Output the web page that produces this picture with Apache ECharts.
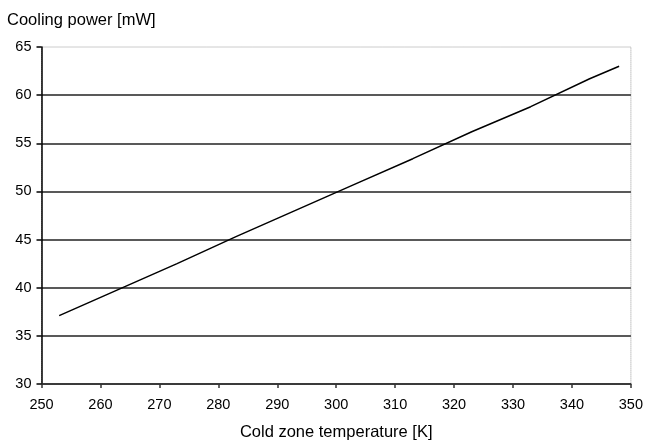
<!DOCTYPE html>
<html>
<head>
<meta charset="utf-8">
<script src="https://cdn.jsdelivr.net/npm/echarts@6/dist/echarts.min.js"></script>
<style>html,body{margin:0;padding:0;background:#fff;}#c{width:646px;height:446px;}</style>
</head>
<body>
<div id="c"></div>
<script>
var temperatureK = [253, 263, 273, 283, 293, 303, 313, 323, 333, 343, 348];
var coolingPowerMW = [37.1, 39.8, 42.5, 45.3, 48.0, 50.7, 53.4, 56.2, 58.8, 61.7, 63.0];
var yTitle = 'Cooling power [mW]';
var xTitle = 'Cold zone temperature [K]';

var chart = echarts.init(document.getElementById('c'));
var font = 'Liberation Sans, Arial, sans-serif';
chart.setOption({
  animation: false,
  backgroundColor: '#fff',
  title: {
    text: yTitle, left: 7, top: 12, padding: 0,
    textStyle: {fontFamily: font, fontSize: 16.5, fontWeight: 'normal', color: '#000'}
  },
  grid: {
    left: 41.5, right: 13, top: 47, bottom: 56,
    show: true, borderColor: '#999', borderWidth: 1, borderType: 'dotted'
  },
  xAxis: {
    type: 'value', min: 250, max: 350, interval: 10,
    name: xTitle, nameLocation: 'middle', nameGap: 40,
    nameTextStyle: {fontFamily: font, fontSize: 16.5, color: '#000'},
    axisLine: {lineStyle: {color: '#333', width: 1.5}},
    axisTick: {show: true, length: 4, lineStyle: {color: '#333', width: 1.5}},
    axisLabel: {fontFamily: font, fontSize: 14.5, color: '#000', margin: 13},
    splitLine: {show: false}
  },
  yAxis: {
    type: 'value', min: 30, max: 65, interval: 5,
    axisLine: {show: true, lineStyle: {color: '#000', width: 1.5}},
    axisTick: {show: true, length: 5, lineStyle: {color: '#000', width: 1.5}},
    axisLabel: {fontFamily: font, fontSize: 14.5, color: '#000', margin: 10},
    splitLine: {show: true, lineStyle: {color: ['#222','#222','#222','#222','#222','#222','#222','transparent'], width: 1.5}}
  },
  series: [{
    type: 'line',
    data: temperatureK.map(function (t, i) { return [t, coolingPowerMW[i]]; }),
    showSymbol: false,
    lineStyle: {color: '#000', width: 1.5}
  }]
});
</script>
</body>
</html>
